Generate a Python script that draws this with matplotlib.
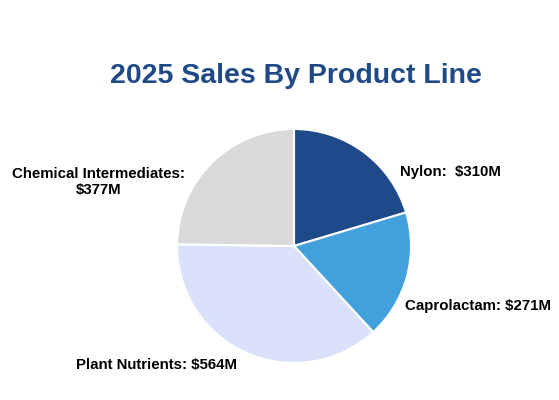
import matplotlib
matplotlib.use("Agg")
import matplotlib.pyplot as plt

categories = ["Nylon", "Caprolactam", "Plant Nutrients", "Chemical Intermediates"]
values = [310, 271, 564, 377]
label_texts = ["Nylon:  $310M", "Caprolactam: $271M", "Plant Nutrients: $564M", "Chemical Intermediates:\n$377M"]
colors = ["#1F4A8A", "#42A1DD", "#D9E2FA", "#D9D9DB"]
title = "2025 Sales By Product Line"

W, H = 559, 400
fig = plt.figure(figsize=(W / 100, H / 100), dpi=100)
plt.rcParams['font.family'] = ['Liberation Sans', 'DejaVu Sans']

cx, cy, r = 294, 246, 117
ax = fig.add_axes([(cx - r) / W, (H - cy - r) / H, 2 * r / W, 2 * r / H])
ax.pie(values, colors=colors, startangle=90, counterclock=False,
       wedgeprops=dict(edgecolor="white", linewidth=1.5))
ax.set_xlim(-1, 1)
ax.set_ylim(-1, 1)
ax.set_aspect("equal")
ax.axis("off")

fig.text(296 / W, (H - 83) / H, title, ha="center", va="baseline",
         fontsize=20.5, fontweight="bold", color="#1F4A86")

fs = 10.8
fig.text(400 / W, (H - 176) / H, label_texts[0], ha="left", va="baseline",
         fontsize=fs, fontweight="bold", color="black")
fig.text(405 / W, (H - 310) / H, label_texts[1], ha="left", va="baseline",
         fontsize=fs, fontweight="bold", color="black")
fig.text(157 / W, (H - 369) / H, label_texts[2], ha="center", va="baseline",
         fontsize=fs, fontweight="bold", color="black")
fig.text(99 / W, (H - 194) / H, label_texts[3], ha="center", va="baseline",
         fontsize=fs, fontweight="bold", color="black", multialignment="center",
         linespacing=1.15)

fig.savefig("out.png", dpi=100, facecolor="white")
